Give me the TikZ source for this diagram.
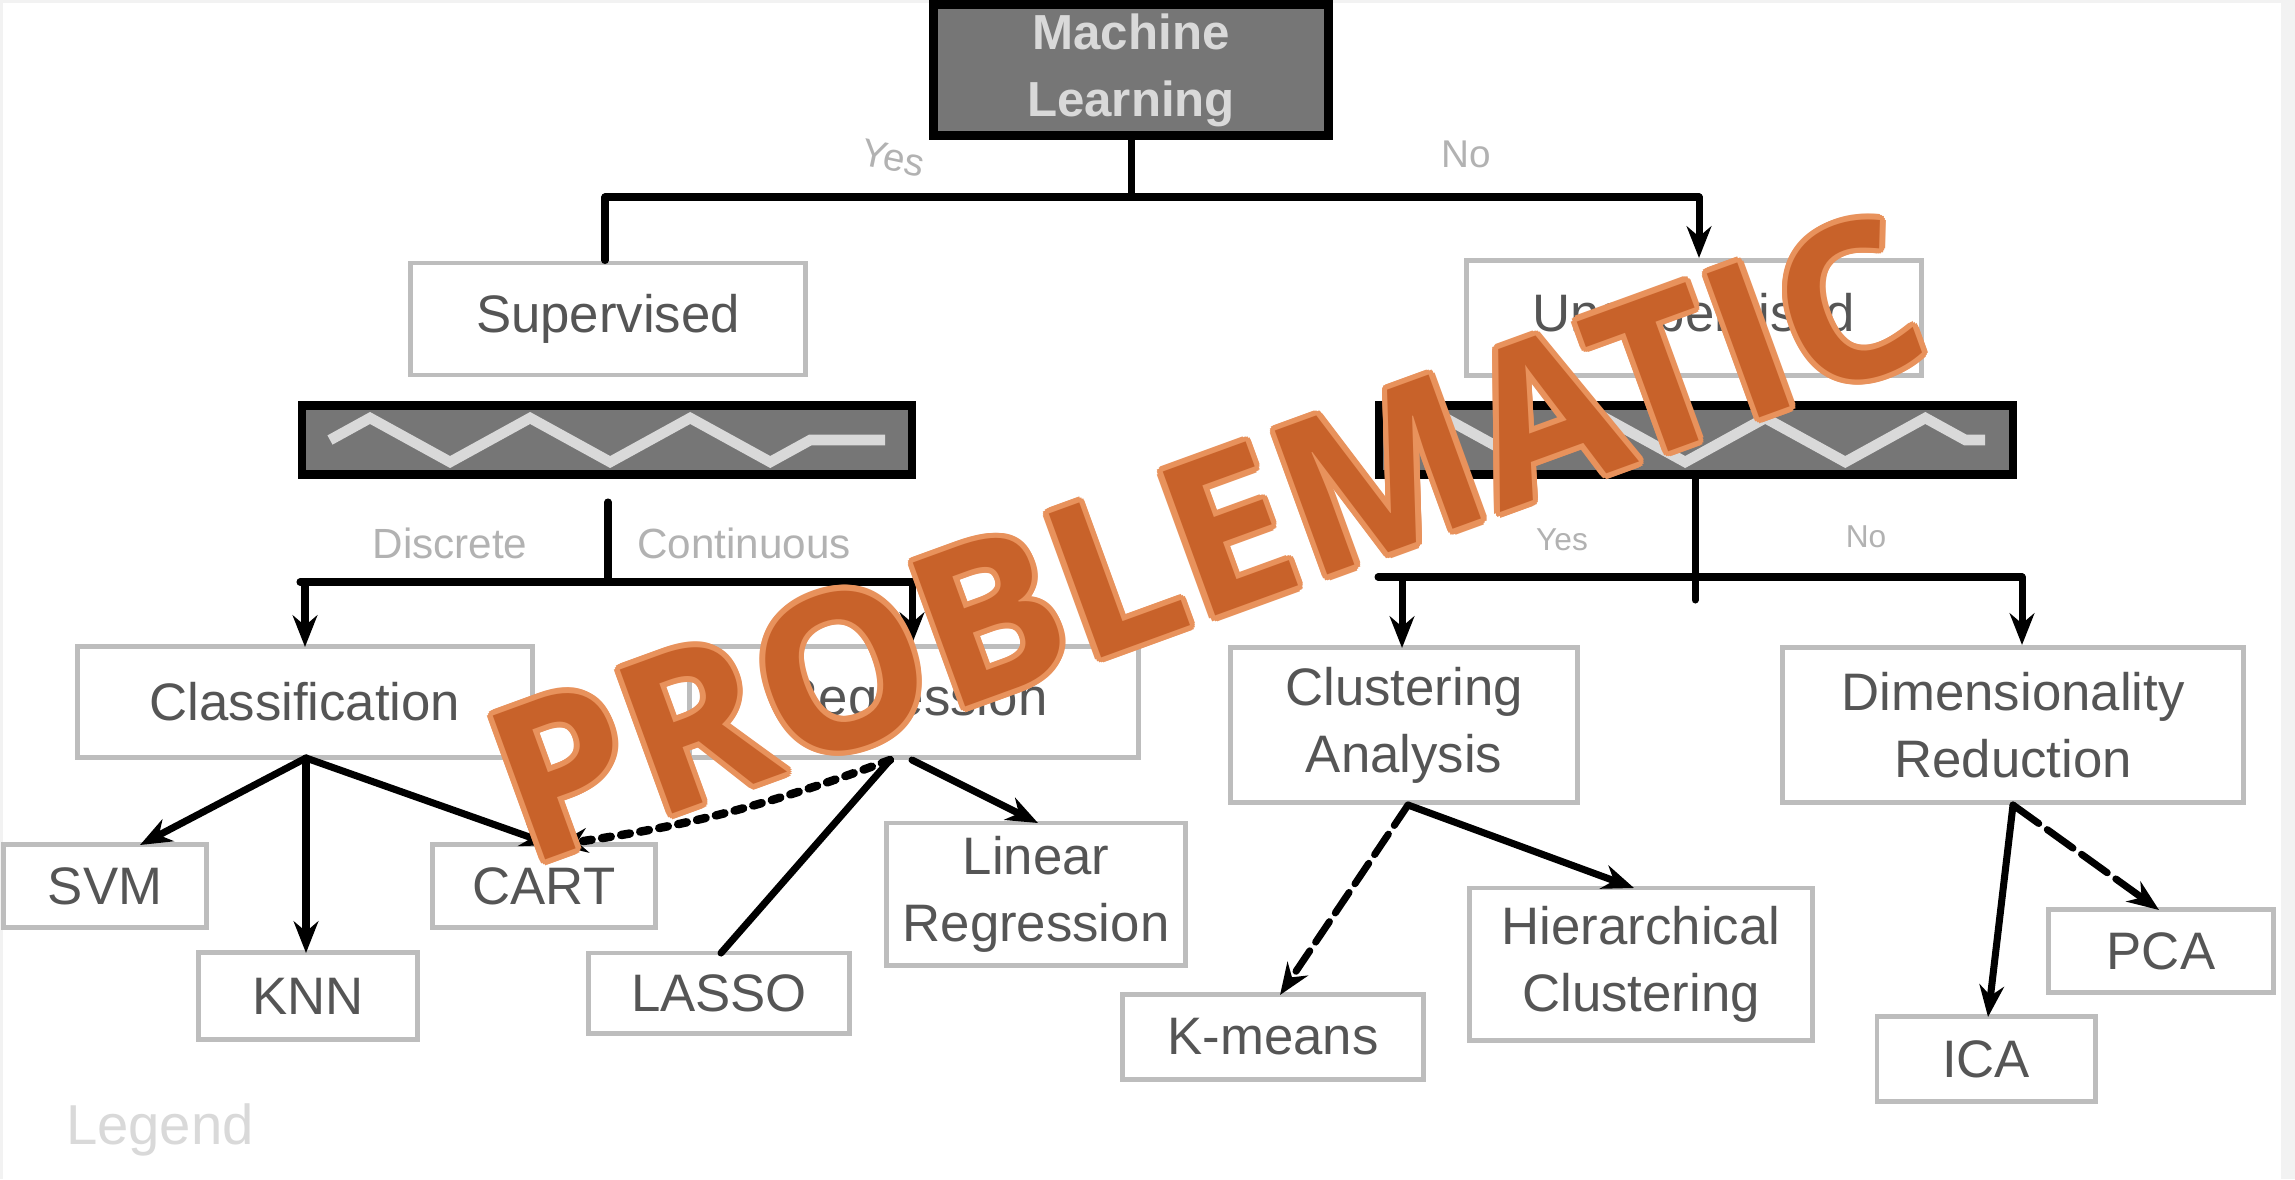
\documentclass[tikz,border=0pt]{standalone}
\usepackage{fontspec}
\setmainfont{Liberation Sans}
\newfontfamily\stampfont{Open Sans}
\usetikzlibrary{arrows.meta,decorations.pathmorphing,calc}
\definecolor{stampfill}{HTML}{C8622A}
\definecolor{stampedge}{HTML}{E8925C}
\definecolor{boxline}{HTML}{BDBDBD}
\definecolor{inktext}{HTML}{555555}
\definecolor{darkfill}{HTML}{767676}
\definecolor{pageedge}{HTML}{F2F2F2}
\tikzset{
  sbox/.style={draw=boxline, line width=1.4pt, rectangle, inner sep=0pt,
    font=\fontsize{15}{19}\selectfont, text=inktext, align=center},
  darkbox/.style={draw=black, line width=2.4pt, fill=darkfill, rectangle, inner sep=0pt,
    align=center, text=gray!30, font=\bfseries\fontsize{14}{19}\selectfont},
  ink/.style={draw=black, line width=2pt, line cap=round},
  arr/.style={ink, -{Stealth[length=9pt,width=7pt]}},
  dotink/.style={ink, line width=2.4pt, dash pattern=on 2.5pt off 3pt},
  dashink/.style={ink, dash pattern=on 7pt off 3pt, -{Stealth[length=9pt,width=7pt]}},
  elabel/.style={font=\fontsize{11}{13}\selectfont, text=gray!60, inner sep=1pt},
  zig/.style={draw=gray!30, line width=3pt, decorate,
    decoration={zigzag, segment length=1.6cm, amplitude=0.22cm}},
  stamp/.style={rotate=20, inner sep=0pt,
    font=\stampfont\bfseries\fontsize{61}{61}\selectfont}
}
\begin{document}
\begin{tikzpicture}[x=0.01cm, y=-0.01cm]
\useasboundingbox (0,0) rectangle (2295,1179);
\fill[pageedge] (0,0) rectangle (2295,1179);
\fill[white] (3,3) rectangle (2281,1179);

% top and bars
\node[darkbox, minimum width=3.95cm, minimum height=1.31cm] (ml) at (1131,70) {Machine\\Learning};
\node[darkbox, minimum width=6.10cm, minimum height=0.69cm] (barL) at (607,440) {};
\node[darkbox, minimum width=6.34cm, minimum height=0.69cm] (barR) at (1696,440) {};
\draw[zig] (330,440) -- (885,440);
\draw[zig] (1405,440) -- (1985,440);

% second level
\node[sbox, minimum width=3.94cm, minimum height=1.12cm] (sup) at (608,319) {Supervised};
\node[sbox, minimum width=4.54cm, minimum height=1.15cm] (unsup) at (1694,318) {Unsupervised};

% third level
\node[sbox, minimum width=4.55cm, minimum height=1.11cm] (cls) at (305,702) {Classification};
\node[sbox, minimum width=4.48cm, minimum height=1.11cm] (reg) at (914,702) {Regression};
\node[sbox, minimum width=3.46cm, minimum height=1.55cm] (clu) at (1404,725) {Clustering\\Analysis};
\node[sbox, minimum width=4.61cm, minimum height=1.55cm] (dim) at (2013,725) {Dimensionality\\Reduction};

% leaves
\node[sbox, minimum width=2.03cm, minimum height=0.83cm] (svm) at (105,886) {SVM};
\node[sbox, minimum width=2.18cm, minimum height=0.87cm] (knn) at (308,996) {KNN};
\node[sbox, minimum width=2.22cm, minimum height=0.83cm] (cart) at (544,886) {CART};
\node[sbox, minimum width=2.60cm, minimum height=0.80cm] (lasso) at (719,993) {LASSO};
\node[sbox, minimum width=2.99cm, minimum height=1.42cm] (linreg) at (1036,894) {Linear\\Regression};
\node[sbox, minimum width=3.01cm, minimum height=0.85cm] (kmeans) at (1273,1037) {K-means};
\node[sbox, minimum width=3.43cm, minimum height=1.52cm] (hier) at (1641,964) {Hierarchical\\Clustering};
\node[sbox, minimum width=2.25cm, minimum height=0.83cm] (pca) at (2161,951) {PCA};
\node[sbox, minimum width=2.18cm, minimum height=0.85cm] (ica) at (1986,1059) {ICA};

% top connectors
\coordinate (tj) at (1131,197);
\coordinate (tl) at (605,197);
\coordinate (tr) at (1699,197);
\draw[ink] (ml.south) -- (tj);
\draw[ink] (tl) -- (tr);
\draw[ink] (tl) -- (tl |- sup.north);
\draw[arr] (tr) -- (tr |- unsup.north);
\node[elabel, rotate=-12] (lyes) at (893,158) {Yes};
\node[elabel] (lno) at (1466,154) {No};

% supervised branch
\coordinate (ls1) at (608,502);
\coordinate (ls2) at (608,582);
\coordinate (lsl) at (300,582);
\coordinate (lsr) at (912,582);
\draw[ink] (ls1) -- (ls2);
\draw[ink] (lsl) -- (lsr);
\draw[arr] (305,582) -- (305,647);
\draw[arr] (lsr) -- (lsr |- reg.north);
\node[elabel, font=\fontsize{12}{14}\selectfont] (ldisc) at (450,543) {Discrete};
\node[elabel, font=\fontsize{12}{14}\selectfont] (lcont) at (744,543) {Continuous};

% unsupervised branch
\coordinate (us1) at (1695,476);
\coordinate (us2) at (1695,600);
\coordinate (usl) at (1378,577);
\coordinate (usr) at (2022,577);
\draw[ink] (us1) -- (us2);
\draw[ink] (usl) -- (usr);
\draw[arr] (1402,577) -- (1402,648);
\draw[arr] (usr) -- (usr |- dim.north);
\node[elabel, font=\fontsize{9}{11}\selectfont] (lyes2) at (1562,540) {Yes};
\node[elabel, font=\fontsize{9}{11}\selectfont] (lno2) at (1866,537) {No};

% classification leaves
\coordinate (cb) at (306,758);
\draw[arr] (cb) -- (140,845);
\draw[arr] (cb) -- (306,953);
\draw[arr] (cb) -- (552,845);

% regression leaves
\coordinate (rb) at (890,760);
\draw[dotink, -{Stealth[length=9pt,width=7pt]}] (rb) to[bend left=6] (556,845);
\draw[ink] (rb) -- (721,953);
\draw[arr] (912,760) -- (1038,823);

% clustering leaves
\coordinate (kb) at (1408,805);
\draw[dashink] (kb) -- (1280,995);
\draw[arr] (kb) -- (1634,888);

% dimensionality leaves
\coordinate (db) at (2013,805);
\draw[ink, dash pattern=on 9pt off 3pt, -{Stealth[length=9pt,width=7pt]}] (db) -- (2159,910);
\draw[arr] (db) -- (1988,1017);

% faint remnant text
\node[text=gray!30, font=\fontsize{16}{18}\selectfont] (legend) at (160,1130) {Legend};

% stamp: light outline made of offset copies, then the fill
\coordinate (stc) at (1206,538);
\foreach \a [count=\i] in {0,22.5,...,337.5}
  \node[stamp, text=stampedge] (se\i) at ($(stc)+(\a:1.6pt)$) {PROBLEMATIC};
\node[stamp, text=stampfill] (stamp) at (stc) {PROBLEMATIC};
\end{tikzpicture}
\end{document}
